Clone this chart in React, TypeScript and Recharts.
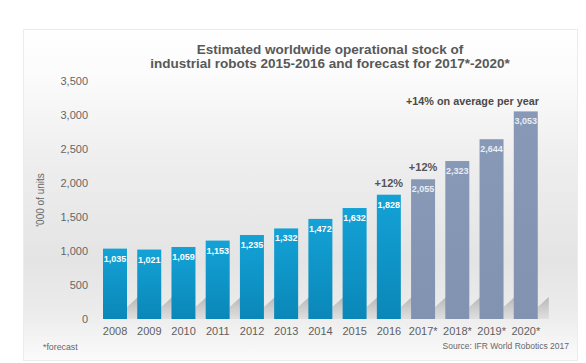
import React from 'react';
import { BarChart, Bar, XAxis, YAxis, LabelList, Customized } from 'recharts';

const years = ['2008', '2009', '2010', '2011', '2012', '2013', '2014', '2015', '2016', '2017*', '2018*', '2019*', '2020*'];
const stock = [1035, 1021, 1059, 1153, 1235, 1332, 1472, 1632, 1828, 2055, 2323, 2644, 3053];
const growth = ['', '', '', '', '', '', '', '', '+12%', '+12%', '', '', ''];
const yTicks = [0, 500, 1000, 1500, 2000, 2500, 3000, 3500];

const data = years.map((year, i) => ({
  year,
  value: stock[i],
  growth: growth[i],
  forecast: year.endsWith('*'),
}));

const FONT = '"Liberation Sans", Arial, sans-serif';

const fmt = (v: number) => v.toLocaleString('en-US');

const BarShape = (props: any) => {
  const { x, y, width, height, payload } = props;
  const bottom = y + height;
  const fill = payload.forecast ? 'url(#gradFc)' : 'url(#gradHist)';
  return (
    <g>
      <polygon
        points={`${x + width},${bottom - 12} ${x + width + 11},${bottom - 22} ${x + width + 11},${bottom} ${x + width},${bottom}`}
        fill="url(#gradShadow)"
      />
      <rect x={x} y={y} width={width} height={height} fill={fill} />
    </g>
  );
};

const ValueLabel = (props: any) => {
  const { x, y, width, value, index } = props;
  const fc = data[index].forecast;
  return (
    <text
      x={x + width / 2}
      y={y + 13}
      textAnchor="middle"
      fontFamily={FONT}
      fontSize={9}
      fontWeight="bold"
      fill={fc ? '#e9edf4' : '#ffffff'}
    >
      {fmt(value)}
    </text>
  );
};

const GrowthLabel = (props: any) => {
  const { x, y, width, value } = props;
  if (!value) return null;
  return (
    <text x={x + width / 2} y={y - 8} textAnchor="middle" fontFamily={FONT} fontSize={11} fontWeight="bold" fill="#555">
      {value}
    </text>
  );
};

const Decor = () => (
  <g>
    <text x={330} y={54} textAnchor="middle" fontFamily={FONT} fontSize={13.5} fontWeight="bold" fill="#585858">
      Estimated worldwide operational stock of
    </text>
    <text x={330} y={68} textAnchor="middle" fontFamily={FONT} fontSize={13.5} fontWeight="bold" fill="#585858">
      industrial robots 2015-2016 and forecast for 2017*-2020*
    </text>
    <text x={539} y={105} textAnchor="end" fontFamily={FONT} fontSize={10.8} fontWeight="bold" fill="#4a4a4a">
      +14% on average per year
    </text>
    <text
      x={44}
      y={200}
      textAnchor="middle"
      transform="rotate(-90 44 200)"
      fontFamily={FONT}
      fontSize={10}
      fill="#666"
    >
      '000 of units
    </text>
    <text x={43} y={350} fontFamily={FONT} fontSize={8.8} fill="#666">
      *forecast
    </text>
    <text x={569} y={349} textAnchor="end" fontFamily={FONT} fontSize={8.5} fill="#666">
      Source: IFR World Robotics 2017
    </text>
  </g>
);

export default function App() {
  return (
    <div style={{ position: 'absolute', left: 0, top: 0, width: 586, height: 363, background: '#fff' }}>
      <div
        style={{
          position: 'absolute',
          left: 23,
          top: 29,
          width: 555,
          height: 332,
          border: '1px solid #ececec',
          boxSizing: 'border-box',
          background:
            'linear-gradient(to bottom, #ffffff 0%, #fbfbfb 14%, #eeeeee 40%, #e4e4e4 70%, #ececec 86%, #fbfbfb 100%)',
        }}
      />
      <div style={{ position: 'absolute', left: 0, top: 0 }}>
        <BarChart
          width={586}
          height={363}
          data={data}
          margin={{ top: 81, right: 43, bottom: 14, left: 38 }}
          barSize={24}
        >
          <defs>
            <linearGradient id="gradHist" x1="0" y1="0" x2="0" y2="1">
              <stop offset="0%" stopColor="#14a2d6" />
              <stop offset="100%" stopColor="#0a87b8" />
            </linearGradient>
            <linearGradient id="gradFc" x1="0" y1="0" x2="0" y2="1">
              <stop offset="0%" stopColor="#8899b7" />
              <stop offset="100%" stopColor="#8193b1" />
            </linearGradient>
            <linearGradient id="gradShadow" x1="0" y1="0" x2="0" y2="1">
              <stop offset="0%" stopColor="#a8a8a8" stopOpacity={0.8} />
              <stop offset="100%" stopColor="#d0d0d0" stopOpacity={0.5} />
            </linearGradient>
          </defs>
          <XAxis
            dataKey="year"
            height={30}
            axisLine={false}
            tickLine={false}
            interval={0}
            tick={{ fontFamily: FONT, fontSize: 11, fill: '#5f5f5f' }}
          />
          <YAxis
            width={60}
            domain={[0, 3500]}
            ticks={yTicks}
            axisLine={false}
            tickLine={false}
            tickMargin={4}
            tickFormatter={fmt}
            tick={{ fontFamily: FONT, fontSize: 11, fill: '#666' }}
          />
          <Bar dataKey="value" isAnimationActive={false} shape={<BarShape />}>
            <LabelList dataKey="value" content={<ValueLabel />} />
            <LabelList dataKey="growth" content={<GrowthLabel />} />
          </Bar>
          <Customized component={<Decor />} />
        </BarChart>
      </div>
    </div>
  );
}
